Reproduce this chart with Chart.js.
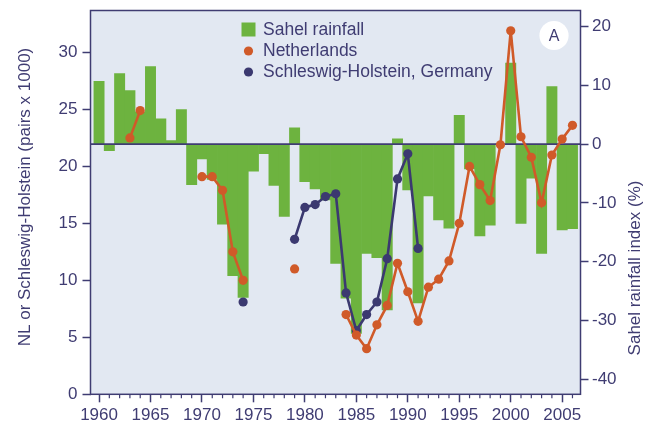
<!DOCTYPE html>
<html>
<head>
<meta charset="utf-8">
<script src="https://cdn.jsdelivr.net/npm/chart.js@4/dist/chart.umd.min.js"></script>
<style>
html,body{margin:0;padding:0;background:#ffffff;}
canvas{display:block;}
</style>
</head>
<body>
<canvas id="c" width="653" height="426"></canvas>
<script>
// ---------- DATA ----------
const years = [1960,1961,1962,1963,1964,1965,1966,1967,1968,1969,
               1970,1971,1972,1973,1974,1975,1976,1977,1978,1979,
               1980,1981,1982,1983,1984,1985,1986,1987,1988,1989,
               1990,1991,1992,1993,1994,1995,1996,1997,1998,1999,
               2000,2001,2002,2003,2004,2005,2006];

// Sahel rainfall index (%), right axis
const sahelRainfall = [10.7, -1.1, 12.0, 9.1, 5.5, 13.2, 4.3, 0.6, 5.9, -6.9,
                       -2.5, -6.0, -13.6, -22.4, -26.1, -4.6, -1.6, -7.0, -12.3, 2.8,
                       -6.4, -7.6, -9.5, -20.3, -26.2, -32.2, -18.6, -19.3, -28.2, 0.9,
                       -7.8, -27.0, -8.8, -12.9, -14.3, 4.9, -4.2, -15.6, -13.8, 0,
                       13.8, -13.5, -5.8, -18.6, 9.8, -14.6, -14.4];

// Netherlands (pairs x 1000), left axis
const netherlands = [null, null, null, 22.5, 24.9, null, null, null, null, null,
                     19.1, 19.1, 17.9, 12.5, 10.0, null, null, null, null, 11.0,
                     null, null, null, null, 7.0, 5.2, 4.0, 6.1, 7.8, 11.5,
                     9.0, 6.4, 9.4, 10.1, 11.7, 15.0, 20.0, 18.4, 17.0, 21.9,
                     31.9, 22.6, 20.8, 16.8, 21.0, 22.4, 23.6];

// Schleswig-Holstein, Germany (pairs x 1000), left axis
const schleswigHolstein = [null, null, null, null, null, null, null, null, null, null,
                           null, null, null, null, 8.1, null, null, null, null, 13.6,
                           16.4, 16.65, 17.35, 17.6, 8.9, 5.6, 7.0, 8.1, 11.9, 18.9,
                           21.1, 12.8, null, null, null, null, null, null, null, null,
                           null, null, null, null, null, null, null];

const xTickYears = years.slice();
const leftTicks = [0, 5, 10, 15, 20, 25, 30];
const rightTicks = [-40, -30, -20, -10, 0, 10, 20];

const seriesLabels = ['Sahel rainfall', 'Netherlands', 'Schleswig-Holstein, Germany'];
const leftTitle = 'NL or Schleswig-Holstein (pairs x 1000)';
const rightTitle = 'Sahel rainfall index (%)';
const panelLetter = 'A';

// ---------- STYLE ----------
const NAVY = '#3f3c72';
const GREEN = '#6db33f';
const ORANGE = '#d05a29';
const DARK = '#3b3970';
const PLOT_BG = '#e2e8f2';
const FONT = "'Liberation Sans', Arial, Helvetica, sans-serif";

Chart.defaults.font.family = FONT;
Chart.defaults.color = NAVY;

const pts = arr => years.map((y, i) => ({x: y, y: arr[i]}));

const zeroPad = s => { s.paddingTop = 0; s.paddingBottom = 0; s.paddingLeft = 0; s.paddingRight = 0; };

const decorPlugin = {
  id: 'decor',
  beforeDraw(chart) {
    const {ctx, chartArea: a} = chart;
    ctx.save();
    ctx.fillStyle = PLOT_BG;
    ctx.fillRect(a.left, a.top, a.right - a.left, a.bottom - a.top);
    ctx.restore();
  },
  afterDatasetDraw(chart, args) {
    if (args.index !== 0) return;
    const {ctx, chartArea: a} = chart;
    const y0 = chart.scales.yR.getPixelForValue(0);
    ctx.save();
    ctx.strokeStyle = NAVY;
    ctx.lineWidth = 1.6;
    ctx.beginPath();
    ctx.moveTo(a.left, y0);
    ctx.lineTo(a.right, y0);
    ctx.stroke();
    ctx.restore();
  },
  afterDraw(chart) {
    const {ctx, chartArea: a} = chart;
    const xs = chart.scales.x;
    ctx.save();
    // frame
    ctx.strokeStyle = NAVY;
    ctx.lineWidth = 1.5;
    ctx.strokeRect(a.left, a.top, a.right - a.left, a.bottom - a.top);
    // minor ticks
    ctx.lineWidth = 1.2;
    ctx.beginPath();
    xTickYears.forEach(v => {
      if (v % 5 !== 0) {
        const px = xs.getPixelForValue(v);
        ctx.moveTo(px, a.bottom);
        ctx.lineTo(px, a.bottom + 4);
      }
    });
    ctx.stroke();

    // legend
    const ds = chart.data.datasets;
    const lx = 248.5, tx = 263;
    const rows = [29.5, 50.5, 71.5];
    ctx.font = '17.5px ' + FONT;
    ctx.textBaseline = 'middle';
    ctx.textAlign = 'left';
    ds.forEach((d, i) => {
      const cy = rows[i];
      if (d.type === 'bar') {
        ctx.fillStyle = d.backgroundColor;
        ctx.fillRect(lx - 7, cy - 7, 14, 14);
      } else {
        ctx.fillStyle = d.pointBackgroundColor;
        ctx.beginPath();
        ctx.arc(lx, cy + 0.5, 4.6, 0, Math.PI * 2);
        ctx.fill();
      }
      ctx.fillStyle = NAVY;
      ctx.fillText(d.label, tx, cy + 1);
    });

    // axis titles
    ctx.font = '17px ' + FONT;
    ctx.textAlign = 'center';
    ctx.textBaseline = 'middle';
    ctx.save();
    ctx.translate(25, 197);
    ctx.rotate(-Math.PI / 2);
    ctx.fillText(leftTitle, 0, 0);
    ctx.restore();
    ctx.save();
    ctx.translate(635.5, 268);
    ctx.rotate(-Math.PI / 2);
    ctx.fillText(rightTitle, 0, 0);
    ctx.restore();

    // panel badge
    ctx.fillStyle = '#ffffff';
    ctx.beginPath();
    ctx.arc(554, 35.5, 14.6, 0, Math.PI * 2);
    ctx.fill();
    ctx.fillStyle = NAVY;
    ctx.font = '16px ' + FONT;
    ctx.fillText(panelLetter, 554, 36.5);
    ctx.restore();
  }
};

const tickFont = {size: 17, family: FONT};

new Chart(document.getElementById('c'), {
  type: 'bar',
  data: {
    datasets: [
      {
        type: 'bar',
        label: seriesLabels[0],
        data: pts(sahelRainfall),
        yAxisID: 'yR',
        xAxisID: 'x',
        backgroundColor: GREEN,
        borderWidth: 0,
        barPercentage: 1.0,
        categoryPercentage: 1.0,
        order: 3
      },
      {
        type: 'line',
        label: seriesLabels[1],
        data: pts(netherlands),
        yAxisID: 'yL',
        xAxisID: 'x',
        borderColor: ORANGE,
        backgroundColor: ORANGE,
        pointBackgroundColor: ORANGE,
        pointBorderWidth: 0,
        pointRadius: 4.6,
        borderWidth: 2.6,
        spanGaps: false,
        tension: 0,
        fill: false,
        order: 1
      },
      {
        type: 'line',
        label: seriesLabels[2],
        data: pts(schleswigHolstein),
        yAxisID: 'yL',
        xAxisID: 'x',
        borderColor: DARK,
        backgroundColor: DARK,
        pointBackgroundColor: DARK,
        pointBorderWidth: 0,
        pointRadius: 4.6,
        borderWidth: 2.6,
        spanGaps: false,
        tension: 0,
        fill: false,
        order: 2
      }
    ]
  },
  options: {
    responsive: false,
    animation: false,
    devicePixelRatio: 1,
    layout: {padding: {top: 10.5, left: 0, right: 0, bottom: 0}},
    plugins: {legend: {display: false}, tooltip: {enabled: false}, title: {display: false}},
    scales: {
      x: {
        type: 'linear',
        position: 'bottom',
        min: 1959.17,
        max: 2006.78,
        offset: false,
        afterBuildTicks: s => { s.ticks = xTickYears.map(v => ({value: v})); },
        afterFit: s => { s.height = 31.7; zeroPad(s); },
        ticks: {
          autoSkip: false,
          maxRotation: 0,
          minRotation: 0,
          padding: 3,
          color: NAVY,
          font: tickFont,
          callback: v => (v % 5 === 0 ? String(v) : '')
        },
        grid: {
          offset: false,
          drawOnChartArea: false,
          drawTicks: true,
          tickLength: 8,
          tickWidth: 1.5,
          tickColor: ctx => (ctx.tick && ctx.tick.value % 5 === 0 ? NAVY : 'rgba(0,0,0,0)')
        },
        border: {display: false}
      },
      yL: {
        type: 'linear',
        position: 'left',
        min: 0,
        max: 33.68,
        afterBuildTicks: s => { s.ticks = leftTicks.map(v => ({value: v})); },
        afterFit: s => { s.width = 90.5; zeroPad(s); },
        ticks: {padding: 5, color: NAVY, font: tickFont, callback: v => String(v)},
        grid: {drawOnChartArea: false, drawTicks: true, tickLength: 8, tickWidth: 1.5, tickColor: NAVY},
        border: {display: false}
      },
      yR: {
        type: 'linear',
        position: 'right',
        min: -42.57,
        max: 22.75,
        afterBuildTicks: s => { s.ticks = rightTicks.map(v => ({value: v})); },
        afterFit: s => { s.width = 72.5; zeroPad(s); },
        ticks: {padding: 3.5, color: NAVY, font: tickFont, callback: v => String(v)},
        grid: {drawOnChartArea: false, drawTicks: true, tickLength: 8, tickWidth: 1.5, tickColor: NAVY},
        border: {display: false}
      }
    }
  },
  plugins: [decorPlugin]
});
</script>
</body>
</html>
